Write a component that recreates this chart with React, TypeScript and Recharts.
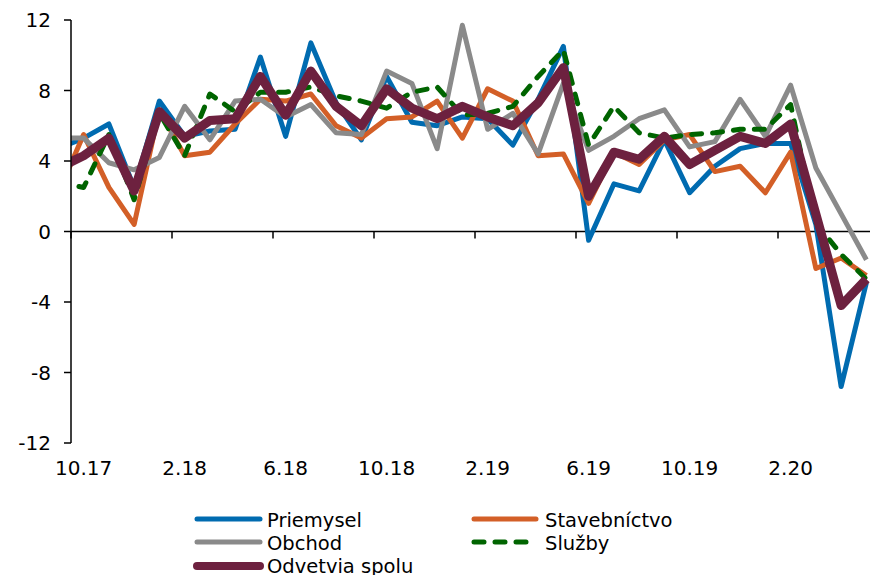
import { LineChart, Line, XAxis, YAxis, ReferenceLine } from "recharts";

// month labels, one per data point (first one sits just left of the plot and gets clipped)
const months = [
  "9.17", "10.17", "11.17", "12.17", "1.18", "2.18", "3.18", "4.18", "5.18", "6.18",
  "7.18", "8.18", "9.18", "10.18", "11.18", "12.18", "1.19", "2.19", "3.19", "4.19",
  "5.19", "6.19", "7.19", "8.19", "9.19", "10.19", "11.19", "12.19", "1.20", "2.20",
  "3.20", "4.20", "5.20",
];

const priemysel = [
  4.7, 5.3, 6.1, 2.5, 7.4, 5.4, 5.7, 5.8, 9.9, 5.4, 10.7, 7.3, 5.2, 8.8, 6.2, 6.0,
  6.5, 6.4, 4.9, 7.5, 10.5, -0.5, 2.7, 2.3, 5.2, 2.2, 3.7, 4.7, 5.0, 5.0, 0.4, -8.8, -2.9,
];
const stavebnictvo = [
  2.2, 5.5, 2.5, 0.4, 6.9, 4.3, 4.5, 6.1, 7.5, 7.4, 7.8, 6.0, 5.3, 6.4, 6.5, 7.4,
  5.3, 8.1, 7.4, 4.3, 4.4, 1.6, 4.5, 3.8, 5.2, 5.5, 3.4, 3.7, 2.2, 4.5, -2.1, -1.5, -2.5,
];
const obchod = [
  5.3, 5.3, 3.9, 3.5, 4.2, 7.1, 5.2, 7.4, 7.5, 6.5, 7.2, 5.6, 5.5, 9.1, 8.4, 4.7,
  11.7, 5.8, 6.7, 4.4, 8.4, 4.6, 5.4, 6.4, 6.9, 4.8, 5.1, 7.5, 5.4, 8.3, 3.6, 1.0, -1.6,
];
const sluzby = [
  2.8, 2.5, 5.5, 1.8, 6.7, 4.3, 7.8, 6.8, 7.9, 7.9, 8.2, 7.7, 7.4, 7.0, 7.9, 8.2,
  6.6, 6.7, 7.1, 8.8, 10.3, 4.9, 7.1, 5.6, 5.3, 5.5, 5.6, 5.8, 5.8, 7.2, 0.5, -1.3, -2.7,
];
const spolu = [
  3.6, 4.3, 5.3, 2.3, 6.8, 5.3, 6.3, 6.4, 8.8, 6.6, 9.1, 7.1, 6.0, 8.1, 7.0, 6.4,
  7.1, 6.5, 6.0, 7.3, 9.3, 2.0, 4.5, 4.1, 5.4, 3.8, 4.6, 5.4, 5.0, 6.1, 1.0, -4.2, -2.7,
];

const yTicks = [-12, -8, -4, 0, 4, 8, 12];
const xLabelTicks = [0, 4, 8, 12, 16, 20, 24, 28];

const data = months.map((m, idx) => ({
  i: idx - 1,
  month: m,
  priemysel: priemysel[idx],
  stavebnictvo: stavebnictvo[idx],
  obchod: obchod[idx],
  sluzby: sluzby[idx],
  spolu: spolu[idx],
}));

const series = [
  { key: "priemysel", name: "Priemysel", color: "#006BB0", width: 5, dash: undefined as string | undefined },
  { key: "stavebnictvo", name: "Stavebníctvo", color: "#D35F27", width: 5, dash: undefined },
  { key: "obchod", name: "Obchod", color: "#8A8A8A", width: 5, dash: undefined },
  { key: "sluzby", name: "Služby", color: "#006400", width: 5, dash: "10 11" },
  { key: "spolu", name: "Odvetvia spolu", color: "#6D213F", width: 9, dash: undefined },
];

// legend grid: two columns, rows filled left to right
const legendCols = [
  { lineFrom: 197, lineTo: 260, textX: 267 },
  { lineFrom: 474, lineTo: 536, textX: 545 },
];
const legendBaselines = [527, 550.3, 573.6];

const axisStroke = { stroke: "#000", strokeWidth: 1.5 };

function LegendBlock() {
  return (
    <>
      {series.map((s, n) => {
        const col = legendCols[n % 2];
        const base = legendBaselines[Math.floor(n / 2)];
        const lw = s.key === "spolu" ? 8 : 5;
        return (
          <div key={s.key}>
            <svg
              width={120}
              height={20}
              style={{ position: "absolute", left: col.lineFrom - 10, top: base - 18 }}
            >
              <line
                x1={10}
                x2={10 + col.lineTo - col.lineFrom}
                y1={10}
                y2={10}
                stroke={s.color}
                strokeWidth={lw}
                strokeLinecap="round"
                strokeDasharray={s.dash}
              />
            </svg>
            <span
              style={{
                position: "absolute",
                left: col.textX,
                top: base - 18.4,
                fontSize: 19.5,
                lineHeight: "23px",
                color: "#000",
                whiteSpace: "nowrap",
              }}
            >
              {s.name}
            </span>
          </div>
        );
      })}
    </>
  );
}

export default function App() {
  return (
    <div
      style={{
        position: "fixed",
        left: 0,
        top: 0,
        width: 870,
        height: 575,
        overflow: "hidden",
        background: "#fff",
        fontFamily: "'DejaVu Sans', Verdana, sans-serif",
      }}
    >
      <LineChart width={880} height={575} data={data} margin={{ top: 20, right: 1, bottom: 102, left: 0 }}>
        <XAxis
          dataKey="i"
          type="number"
          domain={[-0.5, 31.5]}
          allowDataOverflow
          ticks={xLabelTicks}
          interval={0}
          tickFormatter={(v: number) => months[v + 1]}
          axisLine={false}
          tickLine={false}
          tickSize={6}
          tickMargin={12}
          height={30}
          tick={{ fontSize: 20, fill: "#000" }}
        />
        <YAxis
          type="number"
          domain={[-12, 12]}
          ticks={yTicks}
          interval={0}
          width={71}
          tickSize={7}
          tickMargin={13}
          axisLine={axisStroke}
          tickLine={axisStroke}
          tick={{ fontSize: 20, fill: "#000" }}
        />
        <ReferenceLine y={0} {...axisStroke} />
        {xLabelTicks.map((t) => (
          <ReferenceLine
            key={t}
            segment={[
              { x: t - 0.5, y: 0 },
              { x: t - 0.5, y: -0.4 },
            ]}
            {...axisStroke}
          />
        ))}
        {series.map((s) => (
          <Line
            key={s.key}
            dataKey={s.key}
            name={s.name}
            type="linear"
            stroke={s.color}
            strokeWidth={s.width}
            strokeDasharray={s.dash}
            strokeLinecap={s.dash ? "round" : "butt"}
            strokeLinejoin="round"
            dot={false}
            activeDot={false}
            isAnimationActive={false}
          />
        ))}
      </LineChart>
      <LegendBlock />
    </div>
  );
}
